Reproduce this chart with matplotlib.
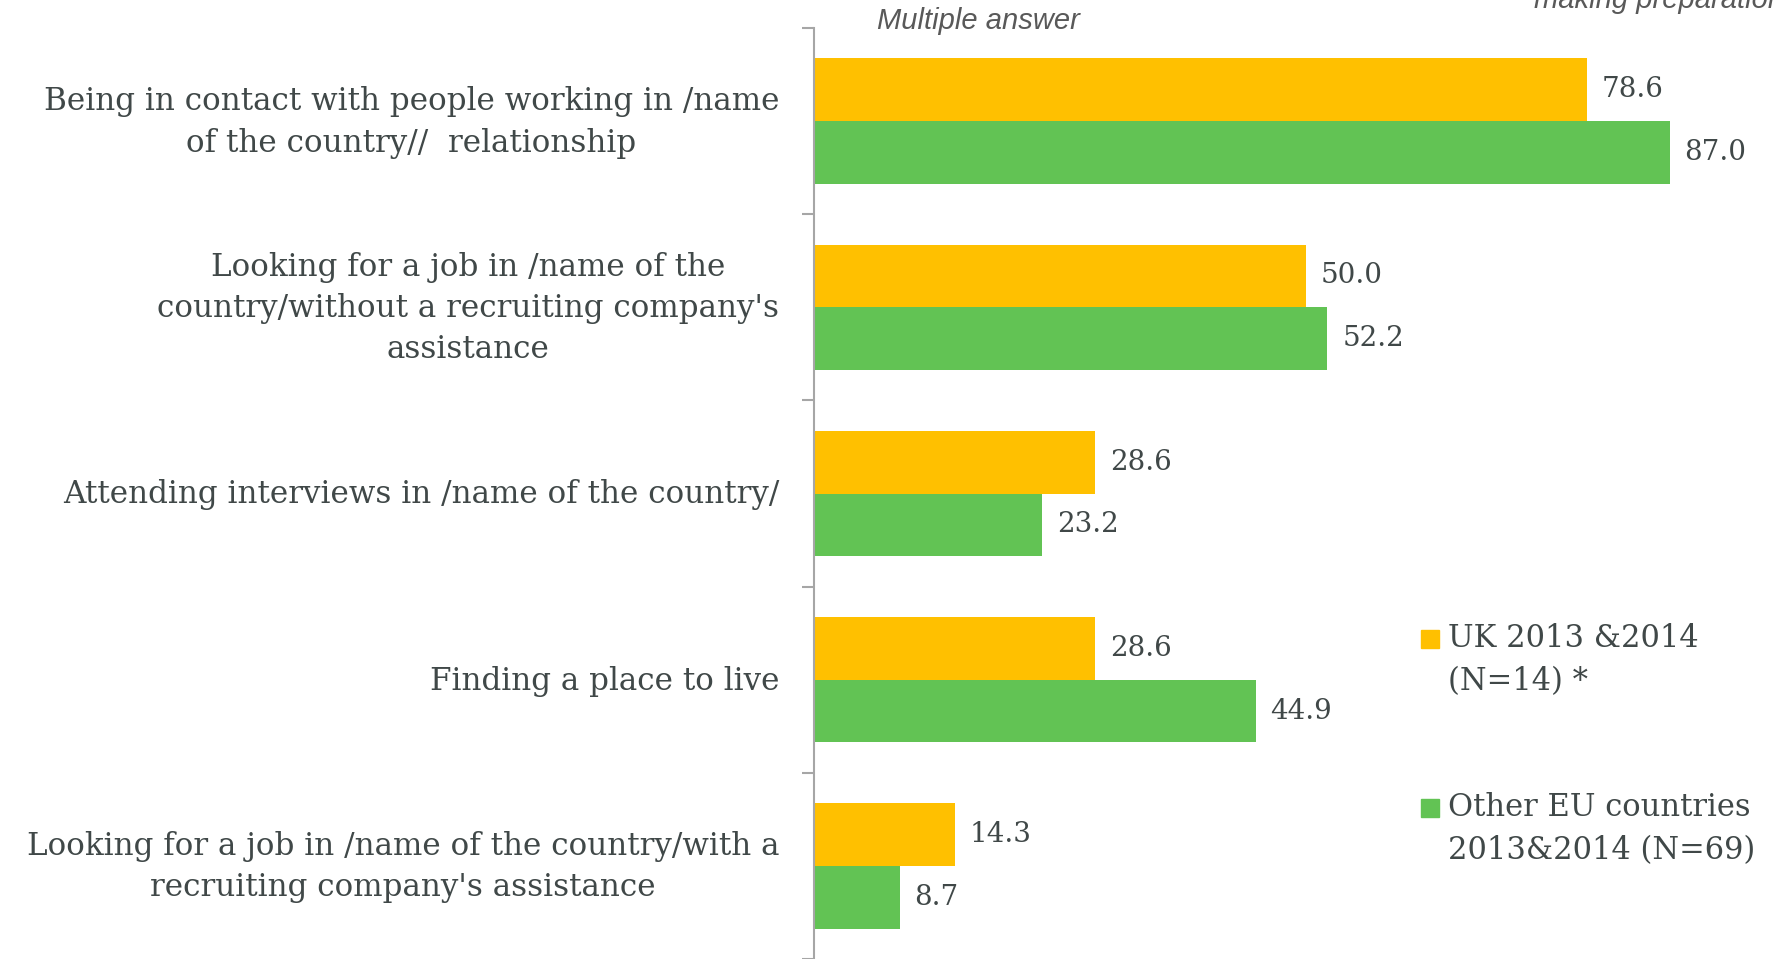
import numpy as np
import matplotlib
matplotlib.use("Agg")
import matplotlib.pyplot as plt

# data, top category first
categories = [
    "Being in contact with people working in /name\nof the country//  relationship",
    "Looking for a job in /name of the\ncountry/without a recruiting company's\nassistance",
    "Attending interviews in /name of the country/",
    "Finding a place to live",
    "Looking for a job in /name of the country/with a\nrecruiting company's assistance",
]
uk_values = [78.6, 50.0, 28.6, 28.6, 14.3]
eu_values = [87.0, 52.2, 23.2, 44.9, 8.7]
series_names = ["UK 2013 &2014\n(N=14) *", "Other EU countries\n2013&2014 (N=69)"]

ORANGE = "#FFC000"
GREEN = "#62C354"
TEXT = "#404848"
SERIF = ["DejaVu Serif"]

fig = plt.figure(figsize=(17.75, 9.59), dpi=100)
ax = fig.add_axes([814 / 1775, 0.0, 1 - 814 / 1775, 1 - 28 / 959])

y = np.arange(len(categories))
h = 0.337
ax.barh(y - h / 2, uk_values, height=h, color=ORANGE, label=series_names[0])
ax.barh(y + h / 2, eu_values, height=h, color=GREEN, label=series_names[1])

for yi, v in zip(y, uk_values):
    ax.text(v + 1.5, yi - h / 2, f"{v:.1f}", va="center", ha="left",
            fontsize=20, color=TEXT, family=SERIF)
for yi, v in zip(y, eu_values):
    ax.text(v + 1.5, yi + h / 2, f"{v:.1f}", va="center", ha="left",
            fontsize=20, color=TEXT, family=SERIF)

ax.set_xlim(0, 97.7)
ax.set_ylim(len(categories) - 0.5, -0.5)
ax.set_xticks([])

# boundary ticks, category labels placed at the group centres
ax.set_yticks(np.arange(-0.5, len(categories), 1.0))
ax.set_yticklabels([])
for yi, lab in zip(y, categories):
    ax.annotate(lab, xy=(0, yi), xycoords=("axes fraction", "data"),
                xytext=(-25, -1), textcoords="offset points",
                ha="right", va="center", multialignment="center",
                family=SERIF, fontsize=22.3, color=TEXT, linespacing=1.42)
ax.tick_params(axis="y", which="major", length=9, width=1.5, color="#A6A6A6",
               direction="out")

for s in ["top", "right", "bottom"]:
    ax.spines[s].set_visible(False)
ax.spines["left"].set_color("#A6A6A6")
ax.spines["left"].set_linewidth(1.5)

# legend, drawn by hand to match the loose layout
for (name, col, yy) in [(series_names[0], ORANGE, 660), (series_names[1], GREEN, 829)]:
    fig.patches.append(plt.Rectangle((1421 / 1775, 1 - (yy - 21 + 9) / 959),
                                     18 / 1775, 18 / 959, color=col,
                                     transform=fig.transFigure, figure=fig))
    fig.text(1448 / 1775, 1 - yy / 959, name, va="center", ha="left",
             fontsize=22, color=TEXT, family=SERIF, linespacing=1.5)

fig.text(877 / 1775, 1 - 21 / 959, "Multiple answer", style="italic",
         family="Liberation Sans", fontsize=21, color="#595959",
         va="center", ha="left")
fig.text(1534 / 1775, 1 - 8 / 959, "making preparations", style="italic",
         family="Liberation Sans", fontsize=21, color="#595959",
         va="baseline", ha="left")

fig.savefig("out.png", dpi=100)
